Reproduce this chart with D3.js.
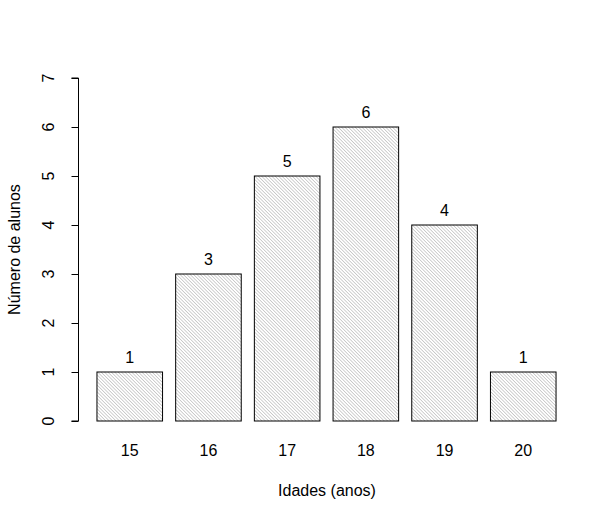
<!DOCTYPE html>
<html>
<head>
<meta charset="utf-8">
<script src="https://cdn.jsdelivr.net/npm/d3@7.9.0/dist/d3.min.js"></script>
<style>
  body { margin: 0; background: #fff; }
  text { font-family: "Liberation Sans", Arial, sans-serif; fill: #000; }
</style>
</head>
<body>
<svg id="chart" width="615" height="519"></svg>
<script>
const ages = ['15', '16', '17', '18', '19', '20'];
const counts = [1, 3, 5, 6, 4, 1];
const yTicks = [0, 1, 2, 3, 4, 5, 6, 7];

const svg = d3.select('#chart');
const fontSize = 16;

// R barplot geometry: width 1, space 0.2
const x = d3.scaleLinear().domain([-0.08, 7.48]).range([78.6, 574.4]);
const y = d3.scaleLinear().domain([0, 7]).range([421, 78]);

const defs = svg.append('defs');
const pat = defs.append('pattern')
  .attr('id', 'hatch')
  .attr('patternUnits', 'userSpaceOnUse')
  .attr('width', 2.4).attr('height', 2.4)
  .attr('patternTransform', 'rotate(-45)');
pat.append('rect').attr('width', 2.4).attr('height', 2.4).attr('fill', '#fff');
pat.append('line')
  .attr('x1', 0).attr('y1', 0).attr('x2', 0).attr('y2', 2.4)
  .attr('stroke', '#9a9a9a').attr('stroke-width', 0.9);

const bars = svg.append('g');
counts.forEach((c, i) => {
  const left = 0.2 + i * 1.2;
  bars.append('rect')
    .attr('x', x(left))
    .attr('y', y(c))
    .attr('width', x(left + 1) - x(left))
    .attr('height', y(0) - y(c))
    .attr('fill', 'url(#hatch)')
    .attr('stroke', '#000')
    .attr('stroke-width', 1);

  bars.append('text')
    .attr('x', x(left + 0.5))
    .attr('y', y(c) - 9)
    .attr('text-anchor', 'middle')
    .attr('font-size', fontSize)
    .text(c);

  bars.append('text')
    .attr('x', x(left + 0.5))
    .attr('y', 456)
    .attr('text-anchor', 'middle')
    .attr('font-size', fontSize)
    .text(ages[i]);
});

// y axis
const yAxis = svg.append('g')
  .attr('transform', 'translate(78.5,0)')
  .call(d3.axisLeft(y).tickValues(yTicks).tickSize(7).tickFormat(''));
yAxis.select('.domain').attr('d', `M-7,${y(0)}H0V${y(7)}H-7`).attr('stroke', '#000');
yAxis.selectAll('.tick line').attr('stroke', '#000');

yTicks.forEach(t => {
  svg.append('text')
    .attr('transform', `translate(54,${y(t)}) rotate(-90)`)
    .attr('text-anchor', 'middle')
    .attr('font-size', fontSize)
    .text(t);
});

svg.append('text')
  .attr('x', 327)
  .attr('y', 496)
  .attr('text-anchor', 'middle')
  .attr('font-size', fontSize)
  .text('Idades (anos)');

svg.append('text')
  .attr('transform', `translate(20,${(y(0) + y(7)) / 2}) rotate(-90)`)
  .attr('text-anchor', 'middle')
  .attr('font-size', fontSize)
  .text('Número de alunos');
</script>
</body>
</html>
